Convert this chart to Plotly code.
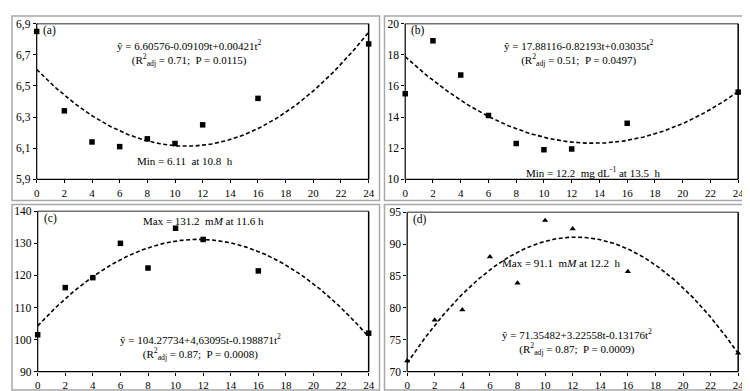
import numpy as np
import plotly.graph_objects as go

W, H = 750, 391
FONT = "Liberation Serif"

hours = [0, 2, 4, 6, 8, 10, 12, 16, 24]
ph_vals = [6.85, 6.34, 6.14, 6.11, 6.16, 6.13, 6.25, 6.42, 6.77]
glu_vals = [15.5, 18.9, 16.7, 14.1, 12.3, 11.9, 11.95, 13.6, 15.6]
c_vals = [101.5, 116.2, 119.3, 130.0, 122.3, 134.7, 131.2, 121.4, 102.0]
d_vals = [71.7, 78.1, 79.7, 88.0, 83.9, 93.7, 92.4, 85.7, 72.9]

coef_a = [6.60576, -0.09109, 0.00421]
coef_b = [17.88116, -0.82193, 0.03035]
coef_c = [104.27734, 4.63095, -0.198871]
coef_d = [71.35482, 3.22558, -0.13176]

x_ticks = list(range(0, 25, 2))
a_ticks = [5.9, 6.1, 6.3, 6.5, 6.7, 6.9]
a_tick_text = ["5,9", "6,1", "6,3", "6,5", "6,7", "6,9"]
b_ticks = [10, 12, 14, 16, 18, 20]
c_ticks = [90, 100, 110, 120, 130, 140]
d_ticks = [70, 75, 80, 85, 90, 95]

# pixel layout (left, top, right, bottom) of plot frames
frames = [
    (26, 10, 362, 171),
    (399, 10, 736, 171),
    (27, 204, 362, 370),
    (401, 205, 736, 370),
]
outer = [
    (1, 2, 373, 193),
    (378, 2, 748, 193),
    (1, 197, 373, 389),
    (378, 197, 748, 389),
]

fig = go.Figure()

panels = [
    (ph_vals, coef_a, "square", [5.9, 6.9], a_ticks, a_tick_text),
    (glu_vals, coef_b, "square", [10, 20], b_ticks, [str(v) for v in b_ticks]),
    (c_vals, coef_c, "square", [90, 140], c_ticks, [str(v) for v in c_ticks]),
    (d_vals, coef_d, "triangle-up", [70, 95], d_ticks, [str(v) for v in d_ticks]),
]

tt = np.linspace(0, 24, 200)
for i, (vals, coef, sym, yr, yt, ytt) in enumerate(panels):
    n = "" if i == 0 else str(i + 1)
    xa, ya = "x" + n, "y" + n
    fit = coef[0] + coef[1] * tt + coef[2] * tt ** 2
    fig.add_trace(go.Scatter(x=tt, y=fit, mode="lines", xaxis=xa, yaxis=ya,
                             line=dict(color="black", width=1.6, dash="4px,2.5px"),
                             showlegend=False, hoverinfo="skip"))
    fig.add_trace(go.Scatter(x=hours, y=vals, mode="markers", xaxis=xa, yaxis=ya,
                             marker=dict(symbol=sym, color="black", size=5.5),
                             showlegend=False, cliponaxis=False))
    l, t, r, b = frames[i]
    fig.update_layout(**{
        "xaxis" + n: dict(domain=[l / W, r / W], range=[0, 24], tickvals=x_ticks,
                          ticks="outside", ticklen=3, tickcolor="black",
                          showgrid=False, zeroline=False, showline=False,
                          anchor=ya, tickfont=dict(family=FONT, size=11, color="black")),
        "yaxis" + n: dict(domain=[1 - b / H, 1 - t / H], range=yr, tickvals=yt,
                          ticktext=ytt, ticks="outside", ticklen=3, tickcolor="black",
                          showgrid=False, zeroline=False, showline=False,
                          anchor=xa, tickfont=dict(family=FONT, size=11.5, color="black")),
    })
    # frame: left/bottom/right black, top gray
    xd, yd = xa + " domain", ya + " domain"
    fig.add_shape(type="line", xref=xd, yref=yd, x0=0, x1=1, y0=1, y1=1,
                  line=dict(color="#707070", width=1.5))
    fig.add_shape(type="line", xref=xd, yref=yd, x0=0, x1=0, y0=0, y1=1,
                  line=dict(color="black", width=1.2))
    fig.add_shape(type="line", xref=xd, yref=yd, x0=0, x1=1, y0=0, y1=0,
                  line=dict(color="black", width=1.2))
    fig.add_shape(type="line", xref=xd, yref=yd, x0=1, x1=1, y0=0, y1=1,
                  line=dict(color="black", width=1.5))
    ol, ot, orr, ob = outer[i]
    fig.add_shape(type="rect", xref="paper", yref="paper",
                  x0=ol / W, x1=orr / W, y0=1 - ob / H, y1=1 - ot / H,
                  line=dict(color="#a8a8a8", width=1.5))

def yf(i, py):
    l, t, r, b = frames[i]
    return (b - py) / (b - t)

def ann(i, x, py, text, size=11):
    n = "" if i == 0 else str(i + 1)
    fig.add_annotation(x=x, y=yf(i, py), xref="x" + n, yref="y" + n + " domain",
                       text=text, showarrow=False, xanchor="center", yanchor="middle",
                       font=dict(family=FONT, size=size, color="black"))

def label(i, text):
    n = "" if i == 0 else str(i + 1)
    fig.add_annotation(x=0.012, y=0.955, xref="x" + n + " domain", yref="y" + n + " domain",
                       text=text, showarrow=False, xanchor="left", yanchor="middle",
                       font=dict(family=FONT, size=11.5, color="black"))

for i, s in enumerate(["(a)", "(b)", "(c)", "(d)"]):
    label(i, s)

ann(0, 11.0, 40, "ŷ = 6.60576-0.09109t+0.00421t<sup>2</sup><br>"
                 "(R<sup>2</sup><sub>adj</sub> = 0.71;  P = 0.0115)")
ann(0, 10.7, 152, "Min = 6.11  at 10.8  h")

ann(1, 12.5, 40, "ŷ = 17.88116-0.82193t+0.03035t<sup>2</sup><br>"
                 "(R<sup>2</sup><sub>adj</sub> = 0.51;  P = 0.0497)")
ann(1, 13.5, 163, "Min = 12.2  mg dL<sup>-1</sup> at 13.5  h")

ann(2, 12.0, 214, "Max = 131.2  m<i>M</i> at 11.6 h")
ann(2, 11.8, 344, "ŷ = 104.27734+4,63095t-0.198871t<sup>2</sup><br>"
                  "(R<sup>2</sup><sub>adj</sub> = 0.87;  P = 0.0008)")

ann(3, 11.2, 258, "Max = 91.1  m<i>M</i> at 12.2  h")
ann(3, 12.3, 339, "ŷ = 71.35482+3.22558t-0.13176t<sup>2</sup><br>"
                  "(R<sup>2</sup><sub>adj</sub> = 0.87;  P = 0.0009)")

fig.update_layout(width=W, height=H, margin=dict(l=0, r=0, t=0, b=0),
                  paper_bgcolor="white", plot_bgcolor="white",
                  font=dict(family=FONT, color="black"))

fig.write_html("out.html")
